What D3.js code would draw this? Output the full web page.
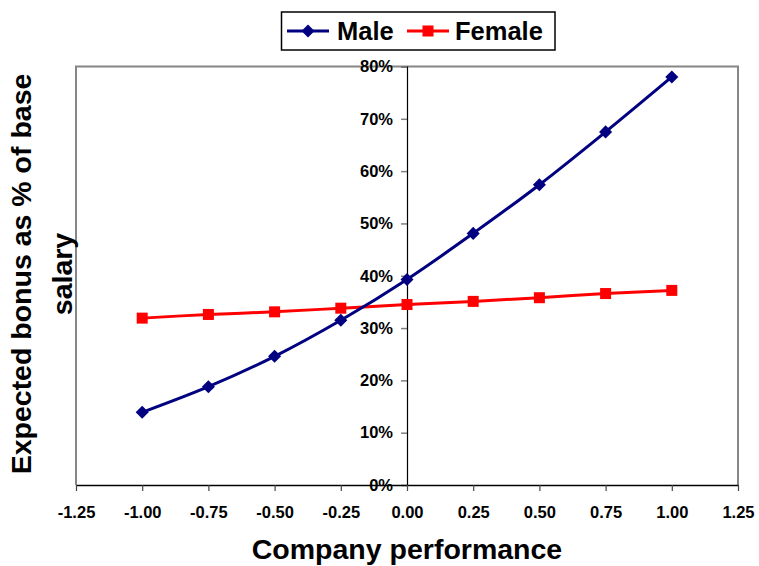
<!DOCTYPE html>
<html>
<head>
<meta charset="utf-8">
<script src="https://cdn.jsdelivr.net/npm/d3@7"></script>
<style>
  html, body { margin: 0; padding: 0; background: #fff; }
  svg { display: block; font-family: Arial, "Liberation Sans", sans-serif; }
</style>
</head>
<body>
<svg id="chart" width="759" height="566"></svg>
<script>
// Company performance (x) and expected bonus as a share of base salary (y)
const performance = [-1.00, -0.75, -0.50, -0.25, 0.00, 0.25, 0.50, 0.75, 1.00];
const maleBonus   = [0.139, 0.188, 0.246, 0.315, 0.393, 0.481, 0.574, 0.675, 0.780];
const femaleBonus = [0.319, 0.326, 0.331, 0.338, 0.345, 0.351, 0.358, 0.366, 0.372];
const xTicks = [-1.25, -1.00, -0.75, -0.50, -0.25, 0.00, 0.25, 0.50, 0.75, 1.00, 1.25];
const yTicks = [0, 0.1, 0.2, 0.3, 0.4, 0.5, 0.6, 0.7, 0.8];
const seriesNames = ["Male", "Female"];

const svg = d3.select("#chart");
const plot = { left: 76, right: 738, top: 66.5, bottom: 485 };

const x = d3.scaleLinear().domain([-1.25, 1.25]).range([plot.left, plot.right]);
const y = d3.scaleLinear().domain([0, 0.8]).range([plot.bottom, plot.top]);

// plot area frame (left, top, right)
svg.append("path")
  .attr("d", `M${plot.left},${plot.bottom}V${plot.top}H${plot.right}V${plot.bottom}`)
  .attr("fill", "none").attr("stroke", "#868686").attr("stroke-width", 2);

// y axis crosses at x = 0
const yAxis = svg.append("g")
  .attr("transform", `translate(${x(0)},0)`)
  .call(d3.axisLeft(y).tickValues(yTicks).tickFormat(d3.format(".0%"))
        .tickSize(6).tickPadding(8));
yAxis.select(".domain").attr("stroke", "#000").attr("stroke-width", 1.2);
yAxis.selectAll(".tick line").attr("stroke", "#808080").attr("stroke-width", 1.5);
yAxis.selectAll(".tick text")
  .attr("font-size", 16.5).attr("font-weight", "bold").attr("fill", "#000")
  .attr("font-family", "Arial, 'Liberation Sans', sans-serif");

// x axis crosses at y = 0
const xAxis = svg.append("g")
  .attr("transform", `translate(0,${y(0)})`)
  .call(d3.axisBottom(x).tickValues(xTicks).tickFormat(d3.format(".2f"))
        .tickSize(6).tickPadding(15).tickSizeOuter(0));
xAxis.select(".domain").attr("stroke", "#000").attr("stroke-width", 1.5);
xAxis.selectAll(".tick line").attr("stroke", "#444").attr("stroke-width", 1.2);
xAxis.selectAll(".tick text")
  .attr("font-size", 16.5).attr("font-weight", "bold").attr("fill", "#000")
  .attr("font-family", "Arial, 'Liberation Sans', sans-serif")
  .text(d => d3.format(".2f")(d).replace("−", "-"));

// series lines
const line = d3.line().curve(d3.curveCatmullRom.alpha(0.5))
  .x(d => x(d[0])).y(d => y(d[1]));

const maleData = performance.map((p, i) => [p, maleBonus[i]]);
const femaleData = performance.map((p, i) => [p, femaleBonus[i]]);

svg.append("path").datum(femaleData).attr("d", line)
  .attr("fill", "none").attr("stroke", "#ff0000").attr("stroke-width", 3);
svg.append("path").datum(maleData).attr("d", line)
  .attr("fill", "none").attr("stroke", "#000080").attr("stroke-width", 3);

const diamond = d3.symbol().type(d3.symbolSquare).size(85);
svg.append("g").selectAll("rect").data(femaleData).join("rect")
  .attr("x", d => x(d[0]) - 5.5).attr("y", d => y(d[1]) - 5.5)
  .attr("width", 11).attr("height", 11).attr("fill", "#ff0000");
svg.append("g").selectAll("path").data(maleData).join("path")
  .attr("d", diamond)
  .attr("transform", d => `translate(${x(d[0])},${y(d[1])}) rotate(45)`)
  .attr("fill", "#000080");

// axis titles
svg.append("text")
  .attr("x", x(0)).attr("y", 559)
  .attr("text-anchor", "middle")
  .attr("font-size", 28.5).attr("font-weight", "bold")
  .text("Company performance");

const yTitle = svg.append("text")
  .attr("transform", "translate(31,274) rotate(-90)")
  .attr("text-anchor", "middle")
  .attr("font-size", 28.5).attr("font-weight", "bold");
yTitle.append("tspan").attr("x", 0).attr("y", 0).text("Expected bonus as % of base");
yTitle.append("tspan").attr("x", 0).attr("y", 41).text("salary");

// legend
const legend = svg.append("g");
legend.append("rect")
  .attr("x", 281.5).attr("y", 12).attr("width", 273.5).attr("height", 38)
  .attr("fill", "#fff").attr("stroke", "#000").attr("stroke-width", 1.5);

const legendItems = [
  { name: seriesNames[0], color: "#000080", x0: 287, tx: 337 },
  { name: seriesNames[1], color: "#ff0000", x0: 407, tx: 455 }
];
legendItems.forEach((it, i) => {
  legend.append("line")
    .attr("x1", it.x0).attr("x2", it.x0 + 42).attr("y1", 31).attr("y2", 31)
    .attr("stroke", it.color).attr("stroke-width", 3);
  if (i === 0) {
    legend.append("path").attr("d", diamond)
      .attr("transform", `translate(${it.x0 + 21},31) rotate(45)`)
      .attr("fill", it.color);
  } else {
    legend.append("rect")
      .attr("x", it.x0 + 15.5).attr("y", 25.5).attr("width", 11).attr("height", 11)
      .attr("fill", it.color);
  }
  legend.append("text")
    .attr("x", it.tx).attr("y", 40)
    .attr("font-size", 25.5).attr("font-weight", "bold")
    .text(it.name);
});
</script>
</body>
</html>
